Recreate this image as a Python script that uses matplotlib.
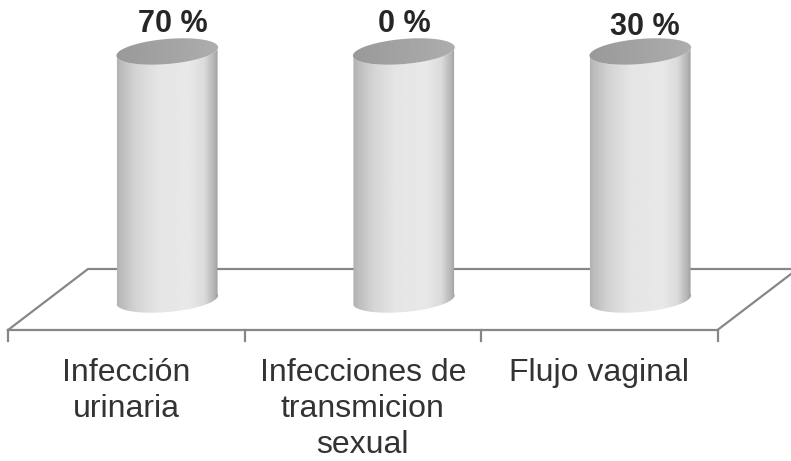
import numpy as np
import matplotlib
matplotlib.use("Agg")
import matplotlib.pyplot as plt
from matplotlib.path import Path
from matplotlib.patches import PathPatch

plt.rcParams['font.family'] = ['Liberation Sans', 'DejaVu Sans']

# data
categories = ["Infección\nurinaria", "Infecciones de\ntransmicion\nsexual", "Flujo vaginal"]
value_labels = ["70 %", "0 %", "30 %"]
# the cylinders in the source are all drawn at the same height, whatever the label says
drawn_heights = [100, 100, 100]

# layout, pixels of the 791x461 picture
W, H = 791, 461
SLOT = 236.5       # width of one category on the floor
FRONT_LEFT = 8
FRONT_Y = 330
DEPTH_X, DEPTH_Y = 80, 61
BASE_Y = 299.5     # pixel row of value 0 at the cylinder axis
PX_PER_UNIT = 2.48
CYL_SHIFT = 41     # cylinder axis sits this far right of the slot centre
RX, RY, TILT = 51, 12.5, np.radians(5)

fig = plt.figure(figsize=(W / 100, H / 100), dpi=100)
ax = fig.add_axes([0, 0, 1, 1])
ax.axis('off')

def to_x(px):
    return (px - FRONT_LEFT) / SLOT - 0.5

def to_y(py):
    return (BASE_Y - py) / PX_PER_UNIT

def ellipse(cx, cy, t):
    # cx, cy in pixels, y going down; tilted so the right side is higher
    ex = RX * np.cos(t)
    ey = RY * np.sin(t)
    return cx + ex * np.cos(TILT) + ey * np.sin(TILT), cy - ex * np.sin(TILT) + ey * np.cos(TILT)

# floor
line_col = '#878787'
n = len(categories)
front_right = FRONT_LEFT + n * SLOT
ax.plot([to_x(FRONT_LEFT), to_x(FRONT_LEFT + DEPTH_X), to_x(W + 2)],
        [to_y(FRONT_Y), to_y(FRONT_Y - DEPTH_Y), to_y(FRONT_Y - DEPTH_Y)],
        color=line_col, lw=1.6, zorder=1)
ax.plot([to_x(FRONT_LEFT), to_x(front_right), to_x(front_right + DEPTH_X)],
        [to_y(FRONT_Y), to_y(FRONT_Y), to_y(FRONT_Y - DEPTH_Y)],
        color=line_col, lw=1.6, zorder=1)
for i in range(n + 1):
    ax.plot([i - 0.5, i - 0.5], [to_y(FRONT_Y), to_y(FRONT_Y + 11)], color=line_col, lw=1.6, zorder=1)

side_stops = [0.0, 0.06, 0.2, 0.42, 0.72, 0.86, 0.96, 1.0]
side_grey = [0.68, 0.74, 0.83, 0.90, 0.91, 0.86, 0.70, 0.60]
u = np.linspace(0, 1, 200)
side_img = np.interp(u, side_stops, side_grey)[None, :]
top_img = np.interp(u, [0, 1], [0.60, 0.68])[None, :]

for i, h in enumerate(drawn_heights):
    cx = FRONT_LEFT + SLOT * (i + 0.5) + CYL_SHIFT
    top_y = BASE_Y - h * PX_PER_UNIT

    # body: lower half of the base ellipse plus upper outline up to the cap
    t = np.linspace(-0.12, np.pi - 0.12, 80)
    bx, by = ellipse(cx, BASE_Y, t)
    tx, ty = ellipse(cx, top_y, t[::-1])
    px = np.r_[bx, tx]
    py = np.r_[by, ty]
    verts = np.c_[to_x(px), to_y(py)]
    clip = PathPatch(Path(np.vstack([verts, verts[0]]), closed=True), fc='none', ec='none', transform=ax.transData)
    ax.add_patch(clip)
    body = ax.imshow(side_img, cmap='gray', vmin=0, vmax=1, aspect='auto', interpolation='bilinear',
                     extent=[to_x(cx - RX - 1), to_x(cx + RX + 1), to_y(BASE_Y + 20), to_y(top_y - 20)], zorder=2)
    body.set_clip_path(clip)

    # cap
    t = np.linspace(0, 2 * np.pi, 120)
    cxs, cys = ellipse(cx, top_y, t)
    verts = np.c_[to_x(cxs), to_y(cys)]
    clip = PathPatch(Path(verts, closed=True), fc='none', ec='none', transform=ax.transData)
    ax.add_patch(clip)
    cap = ax.imshow(top_img, cmap='gray', vmin=0, vmax=1, aspect='auto', interpolation='bilinear',
                    extent=[to_x(cx - RX - 1), to_x(cx + RX + 1), to_y(top_y + 20), to_y(top_y - 20)], zorder=3)
    cap.set_clip_path(clip)

    # value label above the cap
    label_dx = [6, 1, 5][i]
    label_y = [24, 24, 27][i]
    ax.text(to_x(cx + label_dx), to_y(label_y), value_labels[i], ha='center', va='center',
            fontsize=22, fontweight='bold', color='#262626', zorder=4)

# imshow resets the limits, so set them last
ax.set_xlim(to_x(0), to_x(W))
ax.set_ylim(to_y(H), to_y(0))

for i, name in enumerate(categories):
    ax.text(i, to_y(358), name, ha='center', va='top', fontsize=23, color='#333333', linespacing=1.27)

fig.savefig("out.png", dpi=100, facecolor='white')
